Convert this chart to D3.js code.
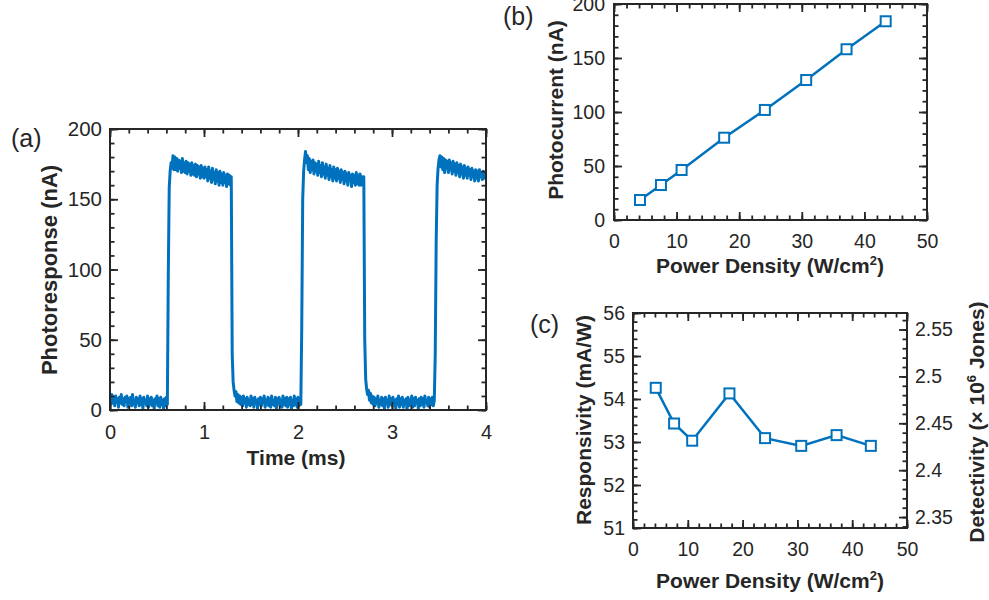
<!DOCTYPE html>
<html lang="en">
<head>
<meta charset="utf-8">
<title>Photoresponse</title>
<script src="https://d3js.org/d3.v7.min.js"></script>
<style>
  body { margin: 0; background: #fff; }
  svg text { font-family: Arial, "Liberation Sans", Helvetica, sans-serif; fill: #262626; }
  .tick text { font-size: 19.5px; }
  .tick line { stroke: #262626; stroke-width: 1.8; }
  .axis-label { font-weight: bold; font-size: 21px; }
  .panel-label { font-size: 25px; }
</style>
</head>
<body>
<script>
// (a) photoresponse trace, one sample every 0.01 ms from 0 to 4 ms (nA)
const sampleStep = 0.01
const photoresponse = [
  10, 4, 11, 5, 9, 3, 10, 6, 8, 2,
  9, 5, 11, 4, 8, 3, 9, 6, 10, 2,
  8, 5, 9, 3, 11, 4, 7, 2, 9, 5,
  8, 3, 10, 4, 8, 1, 9, 5, 7, 3,
  10, 2, 8, 4, 9, 3, 7, 1, 8, 5,
  10, 3, 8, 2, 9, 4, 7, 1, 8, 3,
  9, 4, 95, 158, 170, 176, 172, 181, 171, 180,
  171, 179, 170, 178, 172, 177, 169, 179, 170, 176,
  169, 177, 168, 176, 170, 175, 167, 176, 168, 174,
  167, 175, 166, 174, 168, 173, 165, 174, 166, 172,
  165, 173, 166, 171, 163, 173, 165, 170, 162, 172,
  164, 169, 161, 171, 163, 169, 160, 170, 162, 168,
  160, 169, 162, 167, 159, 168, 161, 167, 160, 166,
  40, 20, 14, 10, 13, 6, 11, 5, 10, 4,
  9, 3, 10, 5, 8, 2, 9, 4, 7, 3,
  10, 4, 8, 2, 9, 5, 7, 1, 8, 4,
  9, 3, 8, 5, 10, 2, 7, 4, 9, 3,
  8, 2, 10, 4, 7, 3, 9, 1, 8, 5,
  9, 3, 7, 2, 10, 4, 8, 3, 9, 2,
  8, 4, 9, 1, 7, 3, 10, 4, 8, 2,
  9, 3, 8, 4, 60, 150, 170, 178, 184, 176,
  181, 171, 179, 169, 177, 171, 178, 168, 176, 170,
  175, 167, 177, 169, 174, 166, 176, 168, 173, 165,
  175, 167, 172, 164, 174, 166, 171, 163, 173, 165,
  171, 163, 172, 165, 170, 162, 171, 164, 169, 161,
  170, 163, 168, 160, 169, 164, 167, 159, 168, 162,
  167, 160, 169, 161, 167, 160, 168, 160, 166, 161,
  166, 50, 22, 15, 11, 14, 7, 12, 5, 10,
  4, 9, 3, 8, 5, 10, 2, 7, 4, 9,
  3, 8, 1, 9, 5, 7, 2, 10, 4, 8,
  3, 9, 5, 7, 1, 8, 4, 10, 2, 8,
  4, 9, 2, 7, 5, 8, 0, 9, 3, 7,
  4, 10, 2, 8, 3, 9, 5, 7, 1, 8,
  3, 9, 4, 8, 2, 10, 5, 7, 3, 9,
  2, 8, 4, 9, 3, 7, 40, 120, 160, 172,
  178, 181, 173, 180, 171, 179, 169, 178, 172, 177,
  169, 178, 171, 176, 168, 177, 170, 175, 167, 176,
  169, 174, 166, 175, 168, 173, 165, 174, 167, 172,
  165, 173, 167, 171, 164, 172, 166, 170, 163, 171,
  165, 170, 163, 171, 166, 169, 164, 170, 165, 168,
  167
]

// (b) and (c)
const powerDensity = [4.15, 7.5, 10.8, 17.6, 24.1, 30.7, 37.15, 43.4]   // W/cm2
const photocurrent = [18.5, 32.4, 46.3, 76.2, 101.9, 129.6, 158.1, 184.0] // nA
const responsivity = [54.26, 53.43, 53.03, 54.13, 53.09, 52.91, 53.16, 52.91] // mA/W
const detPerResp = 0.04585 // detectivity (x 10^6 Jones) per mA/W

// tick labels
const timeTicks = [0, 1, 2, 3, 4]
const currentTicks = [0, 50, 100, 150, 200]
const powerTicks = [0, 10, 20, 30, 40, 50]
const respTicks = [51, 52, 53, 54, 55, 56]
const detTicks = [2.35, 2.4, 2.45, 2.5, 2.55]

const axisColor = '#262626'
const lineColor = '#0072BD'
const majorLen = 8
const minorLen = 4.5

const svg = d3.select('body').append('svg')
    .attr('width', 989)
    .attr('height', 600)

const boxA = { left: 110, right: 486, top: 129, bottom: 410 }
const boxB = { left: 614, right: 927, top: 4, bottom: 220 }
const boxC = { left: 633, right: 907, top: 313, bottom: 528 }

function minorRange(lo, hi, step) {
    return d3.range(Math.round((hi - lo) / step) + 1).map(i => +(lo + i * step).toFixed(4))
}

// draws one set of ticks along one side of a box
function side(axisFn, scale, values, len, pos, labelled, pad) {
    const ax = axisFn(scale)
        .tickValues(values)
        .tickSize(-len)
        .tickPadding(pad || 0)
        .tickFormat(labelled ? (d => String(d)) : '')
    const g = svg.append('g')
        .attr('transform', pos)
        .call(ax)
    g.select('.domain').remove()
    return g
}

function frame(box) {
    svg.append('rect')
        .attr('x', box.left)
        .attr('y', box.top)
        .attr('width', box.right - box.left)
        .attr('height', box.bottom - box.top)
        .attr('fill', 'none')
        .attr('stroke', axisColor)
        .attr('stroke-width', 2)
}

function addText(t, text, sup) {
    if (sup) {
        t.append('tspan').text(text[0])
        t.append('tspan').attr('font-size', 13).attr('dy', -8).text(sup)
        t.append('tspan').attr('dy', 8).text(text[1])
    } else {
        t.text(text)
    }
    return t
}

function xLabel(text, x, y, sup) {
    const t = svg.append('text')
        .attr('class', 'axis-label')
        .attr('x', x)
        .attr('y', y)
        .attr('text-anchor', 'middle')
    return addText(t, text, sup)
}

function yLabel(text, x, y, sup) {
    const t = svg.append('text')
        .attr('class', 'axis-label')
        .attr('transform', 'translate(' + x + ',' + y + ') rotate(-90)')
        .attr('text-anchor', 'middle')
    return addText(t, text, sup)
}

function panelLabel(text, x, y) {
    svg.append('text')
        .attr('class', 'panel-label')
        .attr('x', x)
        .attr('y', y)
        .text(text)
}

// ---------- (a) ----------
let xA = d3.scaleLinear().domain([0, 4]).range([boxA.left, boxA.right])
let yA = d3.scaleLinear().domain([0, 200]).range([boxA.bottom, boxA.top])

svg.append('clipPath').attr('id', 'clipA')
    .append('rect')
    .attr('x', boxA.left).attr('y', boxA.top)
    .attr('width', boxA.right - boxA.left).attr('height', boxA.bottom - boxA.top)

svg.append('path')
    .datum(photoresponse)
    .attr('clip-path', 'url(#clipA)')
    .attr('fill', 'none')
    .attr('stroke', lineColor)
    .attr('stroke-width', 3)
    .attr('stroke-linejoin', 'round')
    .attr('d', d3.line()
        .x((d, i) => xA(i * sampleStep))
        .y(d => yA(d)))

const timeMinor = minorRange(0, 4, 0.2)
const currentMinor = minorRange(0, 200, 10)
side(d3.axisBottom, xA, timeMinor, minorLen, 'translate(0,' + boxA.bottom + ')', false)
side(d3.axisTop, xA, timeMinor, minorLen, 'translate(0,' + boxA.top + ')', false)
side(d3.axisLeft, yA, currentMinor, minorLen, 'translate(' + boxA.left + ',0)', false)
side(d3.axisRight, yA, currentMinor, minorLen, 'translate(' + boxA.right + ',0)', false)
side(d3.axisBottom, xA, timeTicks, majorLen, 'translate(0,' + boxA.bottom + ')', true, 15)
    .selectAll('text').style('font-size', '20px')
side(d3.axisTop, xA, timeTicks, majorLen, 'translate(0,' + boxA.top + ')', false)
side(d3.axisLeft, yA, currentTicks, majorLen, 'translate(' + boxA.left + ',0)', true, 8)
    .selectAll('text').style('font-size', '20.5px')
side(d3.axisRight, yA, currentTicks, majorLen, 'translate(' + boxA.right + ',0)', false)
frame(boxA)

xLabel('Time (ms)', 296, 465)
yLabel('Photoresponse (nA)', 57, 270).style('font-size', '22px')
panelLabel('(a)', 11, 147)

// ---------- (b) ----------
let xB = d3.scaleLinear().domain([0, 50]).range([boxB.left, boxB.right])
let yB = d3.scaleLinear().domain([0, 200]).range([boxB.bottom, boxB.top])

const pointsB = powerDensity.map((p, i) => ({ p: p, v: photocurrent[i] }))

svg.append('path')
    .datum(pointsB)
    .attr('fill', 'none')
    .attr('stroke', lineColor)
    .attr('stroke-width', 2.5)
    .attr('d', d3.line().x(d => xB(d.p)).y(d => yB(d.v)))

svg.selectAll('.markB')
    .data(pointsB)
    .enter()
    .append('rect')
    .attr('class', 'markB')
    .attr('x', d => xB(d.p) - 5)
    .attr('y', d => yB(d.v) - 5)
    .attr('width', 10)
    .attr('height', 10)
    .attr('fill', '#fff')
    .attr('stroke', lineColor)
    .attr('stroke-width', 2)

const powerMinor = minorRange(0, 50, 2)
side(d3.axisBottom, xB, powerMinor, minorLen, 'translate(0,' + boxB.bottom + ')', false)
side(d3.axisTop, xB, powerMinor, minorLen, 'translate(0,' + boxB.top + ')', false)
side(d3.axisLeft, yB, currentMinor, minorLen, 'translate(' + boxB.left + ',0)', false)
side(d3.axisRight, yB, currentMinor, minorLen, 'translate(' + boxB.right + ',0)', false)
side(d3.axisBottom, xB, powerTicks, majorLen, 'translate(0,' + boxB.bottom + ')', true, 14)
side(d3.axisTop, xB, powerTicks, majorLen, 'translate(0,' + boxB.top + ')', false)
side(d3.axisLeft, yB, currentTicks, majorLen, 'translate(' + boxB.left + ',0)', true, 9)
side(d3.axisRight, yB, currentTicks, majorLen, 'translate(' + boxB.right + ',0)', false)
frame(boxB)

xLabel(['Power Density (W/cm', ')'], 770, 273, '2')
yLabel('Photocurrent (nA)', 563, 110)
panelLabel('(b)', 503, 25)

// ---------- (c) ----------
let xC = d3.scaleLinear().domain([0, 50]).range([boxC.left, boxC.right])
let yC = d3.scaleLinear().domain([51, 56]).range([boxC.bottom, boxC.top])
let yD = d3.scaleLinear().domain([51 * detPerResp, 56 * detPerResp]).range([boxC.bottom, boxC.top])

const pointsC = powerDensity.map((p, i) => ({ p: p, v: responsivity[i] }))

svg.append('path')
    .datum(pointsC)
    .attr('fill', 'none')
    .attr('stroke', lineColor)
    .attr('stroke-width', 2.5)
    .attr('d', d3.line().x(d => xC(d.p)).y(d => yC(d.v)))

svg.selectAll('.markC')
    .data(pointsC)
    .enter()
    .append('rect')
    .attr('class', 'markC')
    .attr('x', d => xC(d.p) - 5)
    .attr('y', d => yC(d.v) - 5)
    .attr('width', 10)
    .attr('height', 10)
    .attr('fill', '#fff')
    .attr('stroke', lineColor)
    .attr('stroke-width', 2)

const respMinor = minorRange(51, 56, 0.2)
const detMinor = minorRange(2.34, 2.56, 0.01)
side(d3.axisBottom, xC, powerMinor, minorLen, 'translate(0,' + boxC.bottom + ')', false)
side(d3.axisTop, xC, powerMinor, minorLen, 'translate(0,' + boxC.top + ')', false)
side(d3.axisLeft, yC, respMinor, minorLen, 'translate(' + boxC.left + ',0)', false)
side(d3.axisRight, yD, detMinor, minorLen, 'translate(' + boxC.right + ',0)', false)
side(d3.axisBottom, xC, powerTicks, majorLen, 'translate(0,' + boxC.bottom + ')', true, 14)
side(d3.axisTop, xC, powerTicks, majorLen, 'translate(0,' + boxC.top + ')', false)
side(d3.axisLeft, yC, respTicks, majorLen, 'translate(' + boxC.left + ',0)', true, 8)
side(d3.axisRight, yD, detTicks, majorLen, 'translate(' + boxC.right + ',0)', true, 8)
frame(boxC)

xLabel(['Power Density (W/cm', ')'], 770, 588, '2')
yLabel('Responsivity (mA/W)', 591, 420)
yLabel(['Detectivity (\u00d7 10', ' Jones)'], 984, 422, '6')
panelLabel('(c)', 530, 333)
</script>
</body>
</html>
